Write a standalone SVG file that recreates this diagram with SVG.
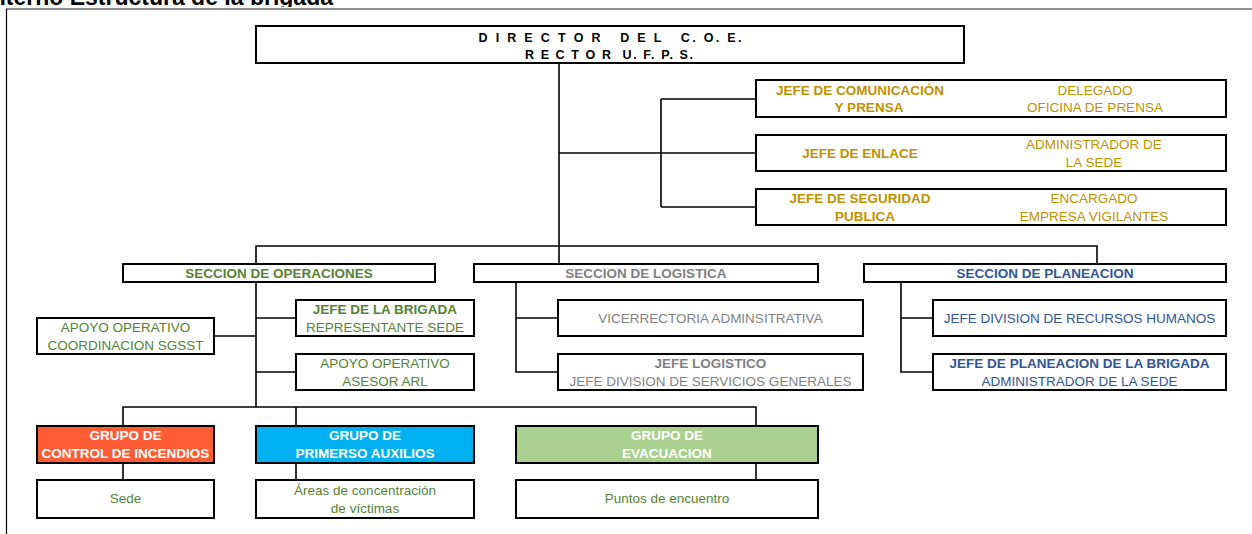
<svg xmlns="http://www.w3.org/2000/svg" width="1252" height="534" viewBox="0 0 1252 534">
<defs>
<style>
text{font-family:"Liberation Sans",Arial,sans-serif;font-size:13.5px;text-anchor:middle}
.b{font-weight:bold}
.box{fill:#fff;stroke:#000;stroke-width:2}
.con{fill:none;stroke:#000;stroke-width:1.6}
.gold{fill:#BF9000}
.grn{fill:#548235}
.gry{fill:#7F7F7F}
.blu{fill:#2F5597}
.wht{fill:#fff;font-weight:bold}
.dir{font-weight:bold;font-size:12.5px;fill:#000;white-space:pre}
</style>
<clipPath id="tc"><rect x="0" y="0" width="1252" height="7"/></clipPath>
</defs>
<rect width="1252" height="534" fill="#fff"/>
<g id="title" clip-path="url(#tc)"><text x="333" y="5" style="font-size:23px;font-weight:bold;text-anchor:end;fill:#000">Interno Estructura de la brigada</text></g>
<g id="frame">
<line x1="6" y1="9" x2="1252" y2="9" stroke="#909090" stroke-width="2"/>
<line x1="6.5" y1="9" x2="6.5" y2="534" stroke="#000" stroke-width="1.2"/>
</g>
<g id="connectors" class="con">
<path d="M559 63V246M559 153H661M661 99V207M661 99H756M661 153H756M661 207H756"/>
<path d="M256 264V246H1097V264M559 246V264"/>
<path d="M256 282V407M256 318H296M256 372H296M214 336H256"/>
<path d="M516 282V372H558M516 318H558"/>
<path d="M901 282V372H933M901 318H933"/>
<path d="M123 426V407H756V426M296 407V426"/>
<path d="M123 463V480M296 463V480M756 463V480"/>
</g>
<g id="director">
<rect class="box" x="256" y="26" width="708" height="37"/>
<text class="dir" x="610" y="41.5" textLength="263" lengthAdjust="spacing">D I R E C T O R   D E L   C. O. E.</text>
<text class="dir" x="609" y="59" textLength="168" lengthAdjust="spacing">R E C T O R  U. F. P. S.</text>
</g>
<g id="comunicacion">
<rect class="box" x="756" y="80" width="470" height="37"/>
<text class="gold b" x="860" y="94.6">JEFE DE COMUNICACIÓN</text>
<text class="gold b" x="869" y="111.6">Y PRENSA</text>
<text class="gold" x="1095" y="94.6">DELEGADO</text>
<text class="gold" x="1095" y="111.6">OFICINA DE PRENSA</text>
</g>
<g id="enlace">
<rect class="box" x="756" y="135" width="470" height="36"/>
<text class="gold b" x="860" y="157.6">JEFE DE ENLACE</text>
<text class="gold" x="1094" y="148.6">ADMINISTRADOR DE</text>
<text class="gold" x="1094" y="166.6">LA SEDE</text>
</g>
<g id="seguridad">
<rect class="box" x="756" y="189" width="470" height="36"/>
<text class="gold b" x="860" y="202.6">JEFE DE SEGURIDAD</text>
<text class="gold b" x="865" y="220.6">PUBLICA</text>
<text class="gold" x="1094" y="202.6">ENCARGADO</text>
<text class="gold" x="1094" y="220.6">EMPRESA VIGILANTES</text>
</g>
<g id="sec-operaciones">
<rect class="box" x="123" y="264" width="312" height="18"/>
<text class="grn b" x="279" y="277.6">SECCION DE OPERACIONES</text>
</g>
<g id="sec-logistica">
<rect class="box" x="474" y="264" width="344" height="18"/>
<text class="gry b" x="646" y="277.6">SECCION DE LOGISTICA</text>
</g>
<g id="sec-planeacion">
<rect class="box" x="864" y="264" width="362" height="18"/>
<text class="blu b" x="1045" y="277.6">SECCION DE PLANEACION</text>
</g>
<g id="apoyo-sgsst">
<rect class="box" x="37" y="318" width="177" height="36"/>
<text class="grn" x="125.5" y="331.6">APOYO OPERATIVO</text>
<text class="grn" x="125.5" y="349.6">COORDINACION SGSST</text>
</g>
<g id="jefe-brigada">
<rect class="box" x="296" y="300" width="178" height="36"/>
<text class="grn b" x="385" y="313.6">JEFE DE LA BRIGADA</text>
<text class="grn" x="385" y="331.6">REPRESENTANTE SEDE</text>
</g>
<g id="apoyo-arl">
<rect class="box" x="296" y="354" width="178" height="36"/>
<text class="grn" x="385" y="367.6">APOYO OPERATIVO</text>
<text class="grn" x="385" y="385.6">ASESOR ARL</text>
</g>
<g id="vicerrectoria">
<rect class="box" x="558" y="300" width="305" height="36"/>
<text class="gry" x="710.5" y="322.6">VICERRECTORIA ADMINSITRATIVA</text>
</g>
<g id="jefe-logistico">
<rect class="box" x="558" y="354" width="305" height="36"/>
<text class="gry b" x="710.5" y="367.6">JEFE LOGISTICO</text>
<text class="gry" x="710.5" y="385.6">JEFE DIVISION DE SERVICIOS GENERALES</text>
</g>
<g id="recursos-humanos">
<rect class="box" x="933" y="300" width="293" height="36"/>
<text class="blu" x="1079.5" y="322.6">JEFE DIVISION DE RECURSOS HUMANOS</text>
</g>
<g id="jefe-planeacion">
<rect class="box" x="933" y="354" width="293" height="36"/>
<text class="blu b" x="1079.5" y="367.6">JEFE DE PLANEACION DE LA BRIGADA</text>
<text class="blu" x="1079.5" y="385.6">ADMINISTRADOR DE LA SEDE</text>
</g>
<g id="grupo-incendios">
<rect class="box" x="37" y="426" width="177" height="37" style="fill:#FF5C35"/>
<text class="wht" x="125.5" y="439.6">GRUPO DE</text>
<text class="wht" x="125.5" y="457.6">CONTROL DE INCENDIOS</text>
</g>
<g id="grupo-auxilios">
<rect class="box" x="256" y="426" width="218" height="37" style="fill:#00B0F0"/>
<text class="wht" x="365" y="439.6">GRUPO DE</text>
<text class="wht" x="365" y="457.6">PRIMERSO AUXILIOS</text>
</g>
<g id="grupo-evacuacion">
<rect class="box" x="516" y="426" width="302" height="37" style="fill:#A9D08E"/>
<text class="wht" x="667" y="439.6">GRUPO DE</text>
<text class="wht" x="667" y="457.6">EVACUACION</text>
</g>
<g id="sede">
<rect class="box" x="37" y="480" width="177" height="38"/>
<text class="grn" x="125.5" y="502.6">Sede</text>
</g>
<g id="areas">
<rect class="box" x="256" y="480" width="218" height="38"/>
<text class="grn" x="365" y="494.6">Áreas de concentración</text>
<text class="grn" x="365" y="512.6">de víctimas</text>
</g>
<g id="puntos">
<rect class="box" x="516" y="480" width="302" height="38"/>
<text class="grn" x="667" y="502.6">Puntos de encuentro</text>
</g>
</svg>
